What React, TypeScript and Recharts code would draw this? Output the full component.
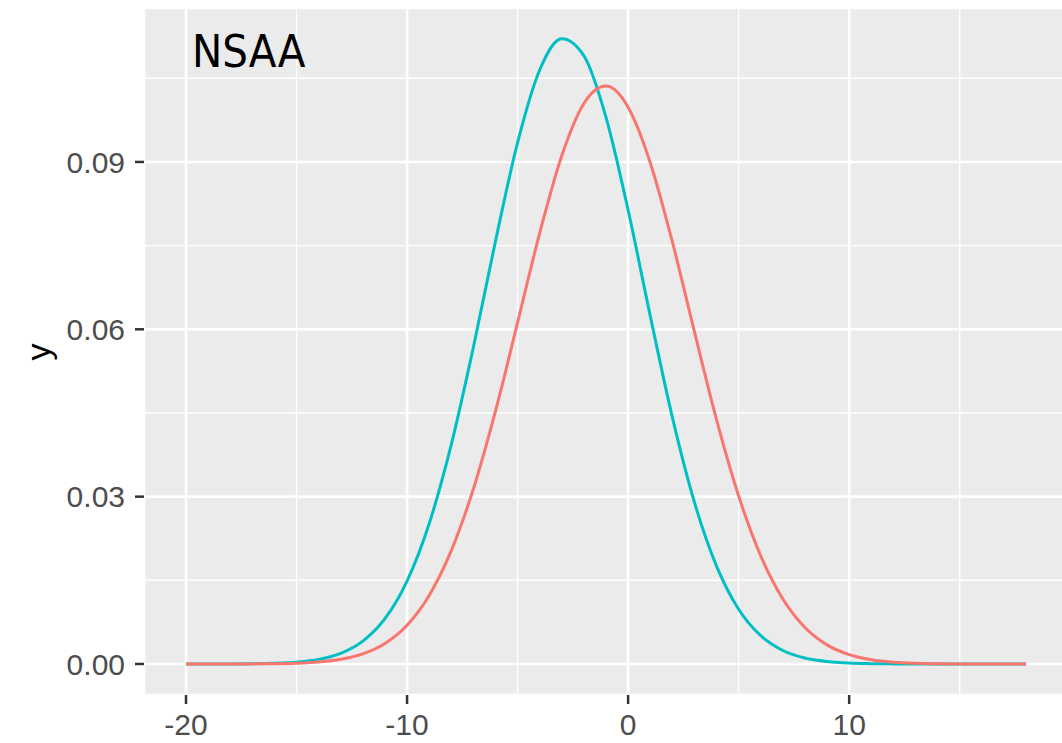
import { LineChart, Line, XAxis, YAxis, CartesianGrid, ReferenceLine } from "recharts";

const xs = [
  -20, -19, -18, -17, -16, -15, -14, -13, -12, -11, -10, -9, -8, -7, -6, -5, -4, -3, -2, -1,
  0, 1, 2, 3, 4, 5, 6, 7, 8, 9, 10, 11, 12, 13, 14, 15, 16, 17, 18,
];

// teal curve (peak near -3)
const tealY = [
  0, 0.000004, 0.000013, 0.000041, 0.00012, 0.00033, 0.00082, 0.00191, 0.0041, 0.00812,
  0.01487, 0.02515, 0.03932, 0.05679, 0.07579, 0.09345, 0.10648, 0.1121, 0.10903, 0.098,
  0.08138, 0.06244, 0.04426, 0.02899, 0.01755, 0.00981, 0.00507, 0.00242, 0.00107, 0.00044,
  0.00016, 0.000057, 0.000018, 0, 0, 0, 0, 0, 0,
];

// red curve (peak near -1)
const redY = [
  0, 0.000002, 0.000006, 0.000019, 0.000055, 0.000146, 0.00036, 0.00084, 0.00181, 0.00367,
  0.00695, 0.01229, 0.02032, 0.03138, 0.04533, 0.06121, 0.07725, 0.09113, 0.10049, 0.1036,
  0.09982, 0.08991, 0.0757, 0.05957, 0.04382, 0.03014, 0.01937, 0.01164, 0.00654, 0.00343,
  0.00168, 0.00077, 0.00033, 0.00013, 0.00005, 0.000017, 0, 0, 0,
];

const xTicks = [-20, -10, 0, 10];
const xMinor = [-15, -5, 5, 15];
const yTicks = [0, 0.03, 0.06, 0.09];
const yMinor = [0.015, 0.045, 0.075, 0.105];

const data = xs.map((x, i) => ({ x, teal: tealY[i], red: redY[i] }));

const tickFont = { fontFamily: "Liberation Sans, Arial, sans-serif", fontSize: 30, fill: "#4D4D4D" };

export default function App() {
  return (
    <div style={{ position: "absolute", left: 0, top: 0, width: 1062, height: 743, overflow: "hidden", background: "#fff" }}>
      <LineChart width={1070} height={743} data={data} margin={{ top: 8, right: 2, bottom: 0, left: 0 }}>
        <CartesianGrid fill="#EBEBEB" stroke="#FFFFFF" strokeWidth={2.6} />
        {xMinor.map((v) => (
          <ReferenceLine key={"vx" + v} x={v} stroke="#FFFFFF" strokeWidth={1.4} />
        ))}
        {yMinor.map((v) => (
          <ReferenceLine key={"hy" + v} y={v} stroke="#FFFFFF" strokeWidth={1.4} />
        ))}
        <XAxis
          type="number"
          dataKey="x"
          domain={[-21.9, 19.9]}
          ticks={xTicks}
          allowDataOverflow
          height={48}
          axisLine={false}
          tickSize={9}
          tickMargin={10}
          tickLine={{ stroke: "#333333", strokeWidth: 2.5 }}
          tick={tickFont}
        />
        <YAxis
          type="number"
          domain={[-0.00556, 0.1176]}
          ticks={yTicks}
          allowDataOverflow
          width={144}
          axisLine={false}
          tickSize={9}
          tickMargin={10}
          tickLine={{ stroke: "#333333", strokeWidth: 2.5 }}
          tick={tickFont}
          tickFormatter={(v: number) => v.toFixed(2)}
        />
        <Line type="monotone" dataKey="teal" stroke="#00BFC4" strokeWidth={3} dot={false} isAnimationActive={false} />
        <Line type="monotone" dataKey="red" stroke="#F8766D" strokeWidth={3} dot={false} isAnimationActive={false} />
      </LineChart>
      <svg width={1062} height={743} style={{ position: "absolute", left: 0, top: 0, pointerEvents: "none" }}>
        <text x={192} y={67} fontFamily="DejaVu Sans Condensed, DejaVu Sans, sans-serif" fontSize={45} fill="#000">
          NSAA
        </text>
        <text
          x={50}
          y={352}
          transform="rotate(-90 50 352)"
          textAnchor="middle"
          fontFamily="Liberation Sans, Arial, sans-serif"
          fontSize={34}
          fill="#000"
        >
          y
        </text>
      </svg>
    </div>
  );
}
